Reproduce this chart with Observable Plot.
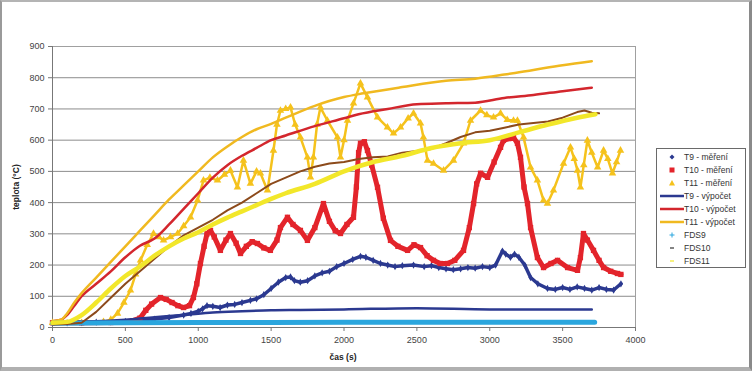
<!DOCTYPE html>
<html><head><meta charset="utf-8">
<script src="https://cdn.jsdelivr.net/npm/d3@7"></script>
<script src="https://cdn.jsdelivr.net/npm/@observablehq/plot@0.6"></script>
<style>
body{margin:0;background:#fff;font-family:"Liberation Sans",Arial,sans-serif;}
#wrap{position:relative;width:752px;height:371px;overflow:hidden;background:#fff;}
#wrap > svg{position:absolute;left:0;top:0;}
.border{position:absolute;left:0;top:0;width:752px;height:371px;box-sizing:border-box;border-top:2px solid #b4b4b4;border-left:2px solid #9a9a9a;border-right:3px solid #8a8a8a;border-bottom:4px solid #b0b0b0;pointer-events:none;}
.ytitle{position:absolute;left:16px;top:187px;transform:translate(-50%,-50%) rotate(-90deg);font-size:8.5px;font-weight:bold;color:#222;white-space:nowrap;}
.xtitle{position:absolute;left:343px;top:357px;transform:translate(-50%,-50%);font-size:8.5px;font-weight:bold;color:#222;white-space:nowrap;}
#legend{position:absolute;left:656px;top:148px;width:90px;height:120px;box-sizing:border-box;border:1px solid #6a6a6a;background:#fff;padding-top:1px;}
.row{height:13.1px;display:flex;align-items:center;font-size:8.5px;color:#333;white-space:nowrap;}
.row svg{flex:none;margin-left:3px;margin-right:0px;}
</style></head><body><div id="wrap"></div>
<script>
// tick values
const xTicks = [0, 500, 1000, 1500, 2000, 2500, 3000, 3500, 4000];
const yTicks = [0, 100, 200, 300, 400, 500, 600, 700, 800, 900];

// series: [time (s), temperature (°C)]
const T9_mereni = [[0,15],[100,15],[200,16],[300,17],[400,18],[500,20],[600,22],[700,27],[800,32],[900,40],[950,45],[1000,52],[1030,60],[1060,70],[1100,68],[1150,64],[1200,72],[1250,74],[1300,80],[1358,87],[1400,92],[1450,105],[1500,125],[1550,145],[1600,160],[1633,162],[1660,150],[1700,145],[1750,150],[1800,165],[1850,175],[1900,180],[1950,195],[2000,205],[2060,218],[2113,228],[2150,225],[2200,215],[2250,205],[2300,200],[2350,195],[2400,198],[2477,200],[2550,195],[2600,198],[2650,192],[2700,188],[2750,185],[2800,188],[2850,192],[2900,190],[2950,195],[3000,192],[3040,200],[3087,245],[3110,235],[3142,225],[3170,235],[3200,225],[3240,200],[3280,160],[3330,140],[3396,125],[3450,122],[3500,128],[3550,122],[3600,130],[3650,125],[3700,120],[3750,128],[3800,122],[3850,120],[3900,140]];
const T10_mereni = [[0,15],[200,15],[400,16],[500,18],[550,22],[600,30],[640,55],[680,75],[741,96],[780,90],[820,80],[860,70],[899,64],[940,70],[967,96],[990,140],[1015,205],[1040,260],[1060,300],[1084,311],[1110,290],[1152,247],[1190,280],[1221,301],[1260,270],[1290,237],[1330,260],[1370,275],[1406,269],[1450,255],[1495,247],[1540,280],[1564,320],[1612,353],[1650,330],[1701,311],[1749,279],[1800,320],[1859,397],[1900,340],[1940,310],[1976,301],[2020,330],[2065,353],[2085,450],[2100,560],[2113,590],[2140,595],[2161,567],[2190,520],[2230,449],[2270,350],[2319,279],[2370,260],[2436,247],[2480,265],[2525,256],[2570,230],[2614,215],[2660,205],[2710,205],[2760,215],[2820,247],[2860,320],[2889,397],[2910,460],[2937,494],[2985,481],[3030,530],[3074,577],[3094,599],[3130,605],[3163,609],[3190,590],[3211,545],[3235,450],[3259,397],[3280,320],[3327,224],[3369,192],[3420,205],[3465,215],[3534,192],[3602,183],[3622,224],[3643,301],[3670,280],[3712,247],[3750,215],[3781,192],[3830,180],[3876,173],[3900,170]];
const T11_mereni = [[0,15],[200,15],[350,18],[400,25],[446,45],[490,80],[535,119],[570,170],[604,215],[650,265],[693,301],[730,290],[762,279],[810,290],[858,301],[900,325],[947,353],[995,407],[1036,471],[1080,480],[1132,471],[1180,490],[1221,503],[1269,449],[1310,535],[1358,461],[1400,500],[1427,494],[1475,439],[1516,567],[1540,650],[1564,695],[1600,700],[1633,705],[1665,650],[1701,609],[1749,545],[1770,481],[1790,545],[1815,650],[1838,705],[1886,663],[1955,609],[1976,545],[2000,600],[2024,663],[2065,718],[2113,782],[2161,737],[2230,673],[2298,641],[2340,622],[2388,641],[2440,670],[2477,686],[2525,654],[2545,609],[2573,535],[2614,525],[2683,503],[2751,535],[2820,590],[2868,663],[2937,695],[2980,680],[3026,673],[3074,686],[3120,665],[3163,663],[3190,663],[3232,609],[3280,513],[3327,471],[3369,407],[3396,397],[3437,439],[3506,525],[3554,577],[3580,540],[3602,503],[3622,449],[3645,520],[3670,599],[3700,560],[3740,513],[3781,567],[3810,540],[3842,494],[3870,530],[3897,567]];
const T9_vypocet = [[0,18],[300,20],[500,25],[700,33],[900,40],[1100,48],[1300,52],[1500,55],[1700,56],[2000,58],[2500,62],[3000,58],[3400,58],[3700,58]];
const T10_vypocet = [[0,20],[60,25],[100,40],[150,70],[200,100],[300,140],[400,180],[500,225],[600,262],[700,285],[800,330],[900,380],[1000,430],[1100,480],[1200,520],[1300,550],[1400,575],[1500,600],[1600,615],[1800,645],[2000,670],[2100,683],[2300,700],[2500,715],[2700,718],[2900,720],[3100,735],[3300,745],[3500,757],[3700,768]];
const T11_vypocet = [[0,20],[60,25],[100,45],[150,80],[200,110],[300,160],[400,210],[500,260],[600,310],[700,360],[800,410],[900,455],[1000,500],[1100,545],[1200,580],[1300,610],[1400,635],[1500,652],[1600,672],[1800,710],[2000,738],[2134,750],[2400,770],[2700,790],[2900,797],[3100,810],[3300,825],[3500,840],[3700,853]];
const FDS9 = [[0,14],[500,15],[1000,16],[1500,16],[2000,17],[2500,17],[3000,17],[3500,17],[3720,17]];
const FDS10 = [[0,10],[100,11],[200,15],[300,50],[400,95],[500,140],[600,180],[700,220],[800,260],[900,295],[1000,320],[1100,345],[1200,375],[1300,400],[1400,430],[1500,460],[1600,480],[1700,500],[1800,515],[1900,525],[2000,530],[2100,540],[2200,545],[2300,548],[2400,560],[2500,565],[2600,572],[2700,590],[2800,610],[2900,625],[3000,630],[3100,640],[3200,650],[3300,655],[3400,660],[3500,672],[3600,690],[3650,695],[3700,688],[3750,686]];
const FDS11 = [[0,15],[100,18],[200,40],[300,80],[400,125],[500,165],[600,195],[700,230],[800,260],[900,285],[1000,305],[1100,330],[1200,352],[1300,372],[1400,392],[1500,412],[1600,430],[1800,460],[2000,500],[2200,530],[2400,550],[2600,575],[2800,590],[3000,600],[3200,625],[3400,650],[3600,672],[3725,683]];

const C = {navy:"#2b3990", red:"#e3242b", tri:"#f5c21c", redLine:"#d3262d", orange:"#f0b920", cyan:"#2aa6de", brown:"#8c4a1b", lemon:"#f2e72a"};
const rows = a => a.map(([t, v]) => ({t, v}));

const chart = Plot.plot({
  width: 752, height: 371,
  marginLeft: 52, marginRight: 117, marginTop: 46, marginBottom: 44,
  style: {fontFamily: '"Liberation Sans", Arial, sans-serif', fontSize: "9px", color: "#444", background: "transparent"},
  x: {domain: [0, 4000]},
  y: {domain: [0, 900]},
  marks: [
    Plot.gridY(yTicks, {stroke: "#8c8c8c", strokeOpacity: 1}),
    Plot.frame({stroke: "#a0a0a0"}),
    Plot.ruleX([0], {stroke: "#777"}),
    Plot.ruleY([0], {stroke: "#777"}),
    Plot.axisX(xTicks, {tickSize: 4, tickPadding: 5, label: null, stroke: "#777", tickFormat: d => String(d)}),
    Plot.axisY(yTicks, {tickSize: 4, tickPadding: 4, label: null, stroke: "#777", tickFormat: d => String(d)}),
    // measured
    Plot.line(rows(T9_mereni), {x: "t", y: "v", stroke: C.navy, strokeWidth: 3.5}),
    Plot.dot(rows(T9_mereni), {x: "t", y: "v", symbol: "diamond", fill: C.navy, r: 2.2}),
    Plot.line(rows(T10_mereni), {x: "t", y: "v", stroke: C.red, strokeWidth: 5}),
    Plot.dot(rows(T10_mereni), {x: "t", y: "v", symbol: "square", fill: C.red, r: 3}),
    Plot.line(rows(T11_mereni), {x: "t", y: "v", stroke: C.tri, strokeWidth: 2.5}),
    Plot.dot(rows(T11_mereni), {x: "t", y: "v", symbol: "triangle", fill: C.tri, r: 2.8}),
    // calculated
    Plot.line(rows(T9_vypocet), {x: "t", y: "v", stroke: C.navy, strokeWidth: 2.5, curve: "monotone-x"}),
    Plot.line(rows(T10_vypocet), {x: "t", y: "v", stroke: C.redLine, strokeWidth: 2.5, curve: "monotone-x"}),
    Plot.line(rows(T11_vypocet), {x: "t", y: "v", stroke: C.orange, strokeWidth: 2.5, curve: "monotone-x"}),
    // FDS
    Plot.line(rows(FDS9), {x: "t", y: "v", stroke: C.cyan, strokeWidth: 5}),
    Plot.line(rows(FDS10), {x: "t", y: "v", stroke: C.brown, strokeWidth: 2}),
    Plot.line(rows(FDS11), {x: "t", y: "v", stroke: C.lemon, strokeWidth: 4.5, curve: "monotone-x"})
  ]
});
const wrap = document.getElementById("wrap");
wrap.appendChild(chart);

const yt = document.createElement("div"); yt.className = "ytitle"; yt.textContent = "teplota (°C)"; wrap.appendChild(yt);
const xt = document.createElement("div"); xt.className = "xtitle"; xt.textContent = "čas (s)"; wrap.appendChild(xt);

const legendItems = [
  {label: "T9 - měření", kind: "diamond", color: C.navy},
  {label: "T10 - měření", kind: "square", color: C.red},
  {label: "T11 - měření", kind: "triangle", color: C.tri},
  {label: "T9 - výpočet", kind: "line", color: C.navy},
  {label: "T10 - výpočet", kind: "line", color: C.redLine},
  {label: "T11 - výpočet", kind: "line", color: C.orange},
  {label: "FDS9", kind: "plus", color: C.cyan},
  {label: "FDS10", kind: "dash", color: "#333"},
  {label: "FDS11", kind: "dash", color: C.lemon}
];
const leg = document.createElement("div"); leg.id = "legend";
const ns = "http://www.w3.org/2000/svg";
for (const it of legendItems) {
  const r = document.createElement("div"); r.className = "row";
  const s = document.createElementNS(ns, "svg"); s.setAttribute("width", 24); s.setAttribute("height", 10);
  let el;
  if (it.kind === "line") { el = document.createElementNS(ns, "line"); el.setAttribute("x1", 0); el.setAttribute("x2", 24); el.setAttribute("y1", 5); el.setAttribute("y2", 5); el.setAttribute("stroke", it.color); el.setAttribute("stroke-width", 2.5); }
  else if (it.kind === "diamond") { el = document.createElementNS(ns, "path"); el.setAttribute("d", "M12,2.5L14.5,5L12,7.5L9.5,5Z"); el.setAttribute("fill", it.color); }
  else if (it.kind === "square") { el = document.createElementNS(ns, "rect"); el.setAttribute("x", 9.5); el.setAttribute("y", 2.5); el.setAttribute("width", 5); el.setAttribute("height", 5); el.setAttribute("fill", it.color); }
  else if (it.kind === "triangle") { el = document.createElementNS(ns, "path"); el.setAttribute("d", "M12,2L15,7.5L9,7.5Z"); el.setAttribute("fill", it.color); }
  else if (it.kind === "plus") { el = document.createElementNS(ns, "path"); el.setAttribute("d", "M12,2.5V7.5M9.5,5H14.5"); el.setAttribute("stroke", it.color); el.setAttribute("stroke-width", 1); }
  else { el = document.createElementNS(ns, "path"); el.setAttribute("d", "M10,5H14"); el.setAttribute("stroke", it.color); el.setAttribute("stroke-width", 1.2); }
  s.appendChild(el); r.appendChild(s);
  const sp = document.createElement("span"); sp.textContent = it.label; r.appendChild(sp);
  leg.appendChild(r);
}
wrap.appendChild(leg);
const b = document.createElement("div"); b.className = "border"; wrap.appendChild(b);
</script></body></html>
